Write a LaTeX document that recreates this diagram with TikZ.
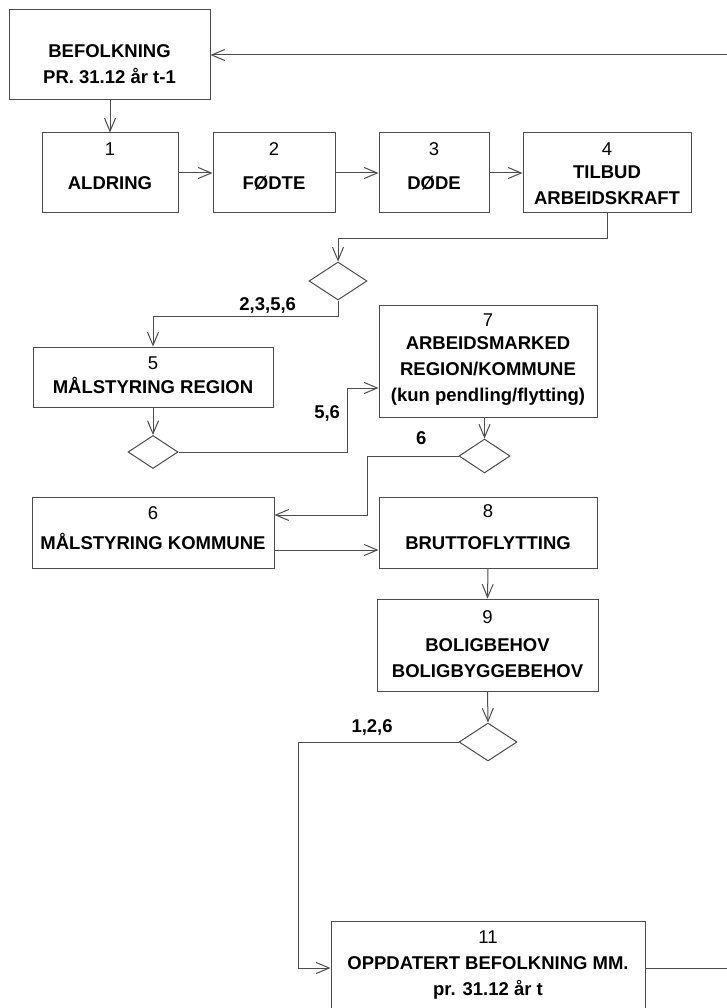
\documentclass[tikz,border=0pt]{standalone}
\usepackage{fontspec}
\setmainfont{Liberation Sans}
\usetikzlibrary{arrows.meta,positioning,shapes.geometric}

\tikzset{
  box/.style={draw=black!70, line width=1pt, inner sep=0pt},
  choice/.style={diamond, draw=black!70, line width=1pt, inner sep=0pt},
  txt/.style={align=center, inner sep=0pt, font=\fontsize{18.5}{26}\selectfont},
  tag/.style={inner sep=0pt, font=\bfseries\fontsize{18.5}{22}\selectfont},
  flow/.style={draw=black!70, line width=1pt, -{Straight Barb[length=13pt,width=11pt]}}
}

\begin{document}
\begin{tikzpicture}[x=1pt,y=-1pt]
\useasboundingbox (0,0) rectangle (726,1008);

\node[box, minimum width=201pt, minimum height=90pt] (bef) at (109.5,55) {};
\node[txt, below=35pt of bef.north] (bef-txt) {\textbf{BEFOLKNING}\\\textbf{PR. 31.12 år t-1}};

\node[box, minimum width=136pt, minimum height=80pt] (ald) at (110,173) {};
\node[txt, below=10pt of ald.north] (ald-txt) {1\\[8pt]\textbf{ALDRING}};

\node[box, minimum width=122pt, minimum height=80pt] (fod) at (274,173) {};
\node[txt, below=10pt of fod.north] (fod-txt) {2\\[8pt]\textbf{FØDTE}};

\node[box, minimum width=110pt, minimum height=80pt] (dod) at (434,173) {};
\node[txt, below=10pt of dod.north] (dod-txt) {3\\[8pt]\textbf{DØDE}};

\node[box, minimum width=168pt, minimum height=80pt] (tilb) at (607,173) {};
\node[txt, below=10pt of tilb.north] (tilb-txt) {4\\[-3pt]\textbf{TILBUD}\\\textbf{ARBEIDSKRAFT}};

\node[choice, minimum width=58pt, minimum height=38pt] (d1) at (338,281) {};

\node[box, minimum width=240pt, minimum height=60pt] (mreg) at (153,377) {};
\node[txt, below=10pt of mreg.north] (mreg-txt) {5\\[-2pt]\textbf{MÅLSTYRING REGION}};

\node[choice, minimum width=50pt, minimum height=33pt] (d2) at (153,452) {};

\node[box, minimum width=218pt, minimum height=112pt] (arb) at (488,361) {};
\node[txt, below=9pt of arb.north] (arb-txt) {7\\[-3pt]\textbf{ARBEIDSMARKED}\\\textbf{REGION/KOMMUNE}\\\textbf{(kun pendling/flytting)}};

\node[choice, minimum width=51pt, minimum height=34pt] (d3) at (484.5,456) {};

\node[box, minimum width=242pt, minimum height=71pt] (mkom) at (153,532.5) {};
\node[txt, below=10pt of mkom.north] (mkom-txt) {6\\[4pt]\textbf{MÅLSTYRING KOMMUNE}};

\node[box, minimum width=218pt, minimum height=71pt] (brutto) at (488,532.5) {};
\node[txt, below=8pt of brutto.north] (brutto-txt) {8\\[6pt]\textbf{BRUTTOFLYTTING}};

\node[box, minimum width=221pt, minimum height=92pt] (bolig) at (487.5,645) {};
\node[txt, below=12pt of bolig.north] (bolig-txt) {9\\[2pt]\textbf{BOLIGBEHOV}\\\textbf{BOLIGBYGGEBEHOV}};

\node[choice, minimum width=58pt, minimum height=38pt] (d4) at (488,742) {};

\node[box, minimum width=314pt, minimum height=94pt] (oppd) at (488,968) {};
\node[txt, below=10pt of oppd.north] (oppd-txt) {11\\\textbf{OPPDATERT BEFOLKNING MM.}\\\textbf{pr. 31.12 år t}};

\draw[flow] (ald.north |- bef.south) -- (ald.north);
\draw[flow] (ald.east) -- (fod.west);
\draw[flow] (fod.east) -- (dod.west);
\draw[flow] (dod.east) -- (tilb.west);
\draw[flow] (tilb.south) -- ++(0,25) -| (d1.north);
\draw[flow] (d1.south) -- ++(0,16) -| node[tag, pos=0.19, above=3pt] (lab-a) {2,3,5,6} (mreg.north);
\draw[flow] (mreg.south) -- (d2.north);
\draw[flow] (d2.east) -- ++(169,0) |- node[tag, pos=0.3, left=7pt] (lab-b) {5,6} ([yshift=-27pt]arb.west);
\draw[flow] (d3.north |- arb.south) -- (d3.north);
\draw[flow] (d3.west) -- node[tag, pos=0.41, above=11pt] (lab-c) {6} ++(-91,0) |- ([yshift=17.5pt]mkom.east);
\draw[flow] ([yshift=-17.5pt]mkom.east) -- ([yshift=-17.5pt]brutto.west);
\draw[flow] (brutto.south) -- (bolig.north);
\draw[flow] (bolig.south) -- (d4.north);
\draw[flow] (d4.west) -- node[tag, pos=0.54, above=6pt] (lab-d) {1,2,6} ++(-160,0) |- (oppd.west);
\draw[flow] (oppd.east) -- ++(100,0) |- (bef.east);
\end{tikzpicture}
\end{document}
